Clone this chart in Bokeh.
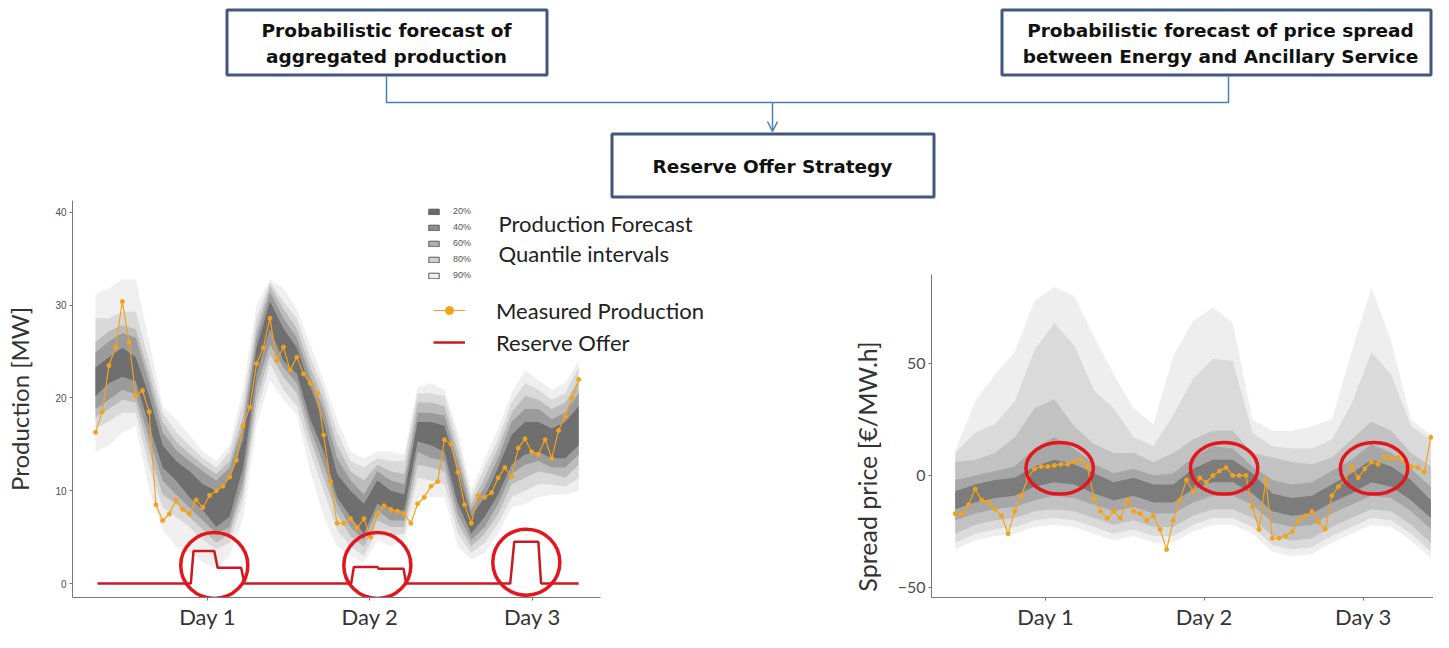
import math
from bokeh.plotting import figure
from bokeh.layouts import column, row
from bokeh.models import (Range1d, FixedTicker, Legend, LegendItem, Label,
                          Arrow, OpenHead)
from bokeh.core.properties import value
from bokeh.embed import file_html
from bokeh.resources import INLINE

# ---------------- DATA ----------------
day_labels = ["Day 1", "Day 2", "Day 3"]
day_ticks_left = [16.7, 40.9, 65.1]
day_ticks_right = [13.7, 37.7, 61.8]
prod_ticks = [0, 10, 20, 30, 40]
spread_ticks = [-50, 0, 50]
quant_labels = ["20%", "40%", "60%", "80%", "90%"]

# production forecast quantile bands (every 2 h)
hours_band_l = list(range(0, 73, 2))
p20_hi = [23.3, 24.4, 25.4, 24.4, 20.2, 14.9, 13.2, 12.1, 10.7, 10.0, 11.4, 15.5, 25.4, 30.4, 27.5, 25.4, 21.2, 17.4, 11.8, 10.0, 8.6, 11.1, 10.0, 9.6, 17.4, 17.4, 17.0, 12.1, 7.2, 9.3, 12.5, 16.0, 17.4, 17.4, 16.7, 17.4, 19.1]
p20_lo = [20.2, 21.6, 22.3, 21.8, 17.0, 12.5, 11.1, 9.3, 7.9, 6.1, 7.2, 12.5, 22.6, 27.5, 24.0, 22.6, 17.7, 14.2, 9.3, 7.2, 5.4, 8.6, 7.9, 7.9, 15.3, 14.9, 14.2, 8.6, 5.4, 7.2, 9.6, 12.8, 13.9, 14.2, 13.5, 13.5, 14.9]
p40_hi = [24.9, 26.1, 27.0, 26.5, 21.6, 16.3, 14.4, 13.2, 12.1, 11.1, 12.5, 17.0, 26.5, 31.4, 28.6, 26.5, 22.3, 18.8, 13.5, 11.1, 9.6, 12.1, 11.1, 10.7, 18.4, 18.4, 18.1, 13.2, 7.9, 10.4, 13.5, 17.4, 18.8, 18.8, 17.7, 18.4, 20.5]
p40_lo = [18.8, 19.8, 20.9, 20.4, 15.6, 11.1, 9.6, 8.2, 6.8, 5.4, 6.1, 11.0, 21.2, 25.8, 23.3, 21.6, 16.7, 12.8, 8.6, 6.1, 4.7, 7.9, 6.8, 6.8, 14.2, 13.5, 13.2, 7.5, 4.7, 6.1, 8.6, 11.8, 12.8, 13.2, 12.5, 12.5, 13.9]
p60_hi = [26.0, 27.2, 27.9, 27.4, 22.6, 17.4, 15.3, 14.0, 12.8, 11.8, 13.2, 18.0, 27.5, 32.1, 29.6, 27.5, 23.3, 19.8, 14.9, 12.1, 11.1, 12.8, 12.1, 11.8, 19.5, 19.5, 19.1, 14.2, 8.6, 11.4, 14.6, 18.4, 20.2, 19.8, 18.8, 19.5, 21.9]
p60_lo = [17.9, 18.8, 19.8, 19.5, 14.2, 9.6, 8.6, 7.2, 5.8, 4.4, 5.4, 10.0, 19.8, 24.7, 22.3, 20.5, 15.6, 11.4, 7.5, 5.1, 4.0, 6.8, 6.1, 6.1, 12.8, 12.5, 12.1, 6.5, 4.0, 5.4, 7.5, 10.7, 11.4, 12.1, 11.8, 11.4, 12.8]
p80_hi = [28.6, 28.6, 29.3, 29.3, 24.0, 18.4, 16.3, 14.9, 13.5, 12.5, 14.2, 19.5, 28.6, 32.5, 30.4, 28.6, 24.4, 20.9, 16.3, 13.2, 12.5, 13.5, 13.2, 13.2, 20.5, 20.5, 20.2, 15.3, 9.3, 12.5, 15.6, 19.5, 21.6, 20.9, 19.8, 20.5, 23.3]
p80_lo = [16.7, 17.5, 18.4, 18.4, 12.5, 8.2, 7.2, 6.1, 4.7, 3.7, 4.4, 9.0, 18.4, 23.7, 20.9, 19.1, 14.2, 10.0, 5.8, 4.0, 3.0, 5.8, 5.1, 5.4, 11.4, 11.1, 10.7, 5.4, 3.3, 4.4, 6.5, 9.3, 10.0, 10.7, 10.7, 10.4, 11.4]
p90_hi = [31.2, 31.8, 32.8, 32.8, 26.1, 19.1, 17.7, 16.0, 14.2, 13.2, 14.9, 21.0, 30.0, 32.8, 31.8, 29.6, 25.8, 21.9, 17.7, 14.2, 13.5, 14.2, 14.2, 13.9, 21.2, 21.6, 20.9, 16.3, 10.0, 13.5, 16.7, 20.5, 23.0, 21.9, 20.9, 21.6, 24.0]
p90_lo = [14.2, 14.9, 16.3, 17.0, 10.0, 5.8, 4.0, 3.3, 2.3, 1.6, 3.0, 7.0, 17.0, 21.9, 19.8, 18.1, 12.1, 7.2, 4.0, 3.0, 2.3, 4.7, 4.0, 4.7, 9.3, 9.3, 9.3, 4.0, 2.6, 3.3, 5.4, 8.2, 8.6, 9.3, 9.6, 9.6, 10.0]

# measured production (hourly)
hours_meas = list(range(0, 73))
meas_prod = [16.3, 18.5, 23.5, 25.5, 30.4, 26.0, 20.2, 20.8, 18.5, 8.5, 6.8, 7.5, 9.0, 8.0, 7.5, 9.0, 8.2, 9.5, 10.0, 10.5,
             11.5, 13.3, 17.0, 19.0, 23.7, 25.4, 28.6, 24.0, 25.5, 23.0, 24.4, 22.6, 21.6, 20.5, 16.0, 11.0, 6.5, 6.5, 7.0, 6.0,
             7.0, 5.0, 7.5, 8.4, 8.0, 7.8, 7.5, 6.5, 8.6, 9.3, 10.5, 11.0, 15.5, 15.0, 12.0, 8.5, 6.5, 9.5, 9.3, 9.8,
             11.4, 12.5, 11.5, 14.6, 15.6, 14.2, 13.9, 15.5, 13.5, 16.5, 18.0, 20.0, 22.0]

# reserve offer (step line)
reserve_h = [0.3, 14.2, 14.6, 17.7, 18.2, 21.7, 22.2, 38.1, 38.5, 42.0, 42.2, 45.9, 46.3, 61.8, 62.4, 66.0, 66.4, 72.0]
reserve_mw = [0, 0, 3.5, 3.5, 1.7, 1.7, 0, 0, 1.8, 1.8, 1.6, 1.6, 0, 0, 4.5, 4.5, 0, 0]

# highlight circles (left)
circ_l_x = [17.7, 42.0, 64.2]
circ_l_y = [1.95, 1.95, 2.3]
circ_l_w = [10.0, 10.0, 10.0]
circ_l_h = [7.1, 7.1, 7.1]

# spread price forecast quantile bands (every 3 h)
hours_band_r = list(range(0, 73, 3))
s20_lo = [-15, -12, -10, -9, -5, -3, -4, -8, -11, -9, -12, -12, -6, -3, -3, -8, -16, -18, -17, -12, -8, -3, -5, -11, -19]
s20_hi = [-7, -4, -2, -1, 4, 7, 5, 1, -3, -1, -4, -4, 3, 7, 7, 1, -8, -10, -9, -4, 1, 7, 4, -2, -11]
s40_lo = [-20, -17, -15, -14, -11, -9, -10, -13, -16, -14, -17, -17, -12, -9, -9, -13, -21, -23, -22, -17, -13, -9, -10, -16, -24]
s40_hi = [-2, 0, 2, 4, 12, 17, 12, 5, 1, 3, 0, 1, 8, 13, 12, 4, -2, -4, -3, 2, 7, 14, 10, 3, -5]
s60_lo = [-26, -22, -20, -19, -16, -15, -16, -19, -22, -20, -23, -23, -18, -15, -15, -19, -27, -29, -28, -23, -19, -15, -16, -22, -30]
s60_hi = [6, 7, 10, 17, 30, 34, 22, 14, 10, 10, 6, 10, 16, 20, 20, 10, 8, 6, 5, 8, 16, 24, 20, 10, 4]
s80_lo = [-30, -26, -24, -23, -20, -19, -20, -23, -26, -24, -27, -27, -22, -19, -19, -23, -31, -33, -32, -27, -23, -19, -20, -26, -34]
s80_hi = [10, 19, 23, 33, 56, 68, 58, 38, 30, 17, 13, 27, 43, 52, 51, 19, 13, 12, 12, 16, 32, 55, 45, 22, 16]
s90_lo = [-33, -29, -27, -26, -23, -22, -23, -26, -29, -27, -30, -30, -25, -22, -22, -26, -34, -36, -35, -30, -26, -22, -23, -29, -37]
s90_hi = [11, 33, 45, 55, 78, 84, 80, 62, 45, 30, 23, 53, 69, 75, 68, 25, 20, 20, 22, 25, 55, 84, 60, 25, 18]

# measured spread (hourly)
meas_spread = [-17, -17, -13, -6, -11, -12, -15, -18, -26, -16, -9, -1, 3, 4, 4, 4.5, 5, 5, 6, 7,
               4, -10, -16, -19, -16, -19, -11, -16, -17, -20, -18, -24, -33, -20, -11, -2, -7, -1, -3, 0,
               2, 3.5, 0, 0, 0, -14, -24, -2, -28, -28, -27, -25, -20, -18, -16, -21, -24, -9, -5, -2,
               4, -1, 3, 6, 5, 8.5, 7.5, 8, 6, 4, 3.5, 1.5, 17]

# highlight ellipses (right)
ell_r_x = [15.8, 40.7, 63.4]
ell_r_y = [3.2, 3.2, 3.2]
ell_r_w = [10.2, 10.2, 10.2]
ell_r_h = [23.0, 23.0, 23.0]

# ---------------- STYLE ----------------
ORANGE = "#f2a31b"
RED = "#e3161e"
RED_LINE = "#c81a22"
BOX = "#41587a"
CONN = "#4a7ebb"
bands_l_colors = ["#efefef", "#d9d9d9", "#bcbcbc", "#9b9b9b", "#6f6f6f"]   # 90,80,60,40,20
bands_r_colors = ["#eeeeee", "#dadada", "#c2c2c2", "#a7a7a7", "#7c7c7c"]
swatch_colors = ["#6b6b6b", "#8e8e8e", "#aeaeae", "#d0d0d0", "#efefef"]  # 20..90

# ---------------- TOP DIAGRAM ----------------
top = figure(width=1433, height=200, x_range=Range1d(0, 1433), y_range=Range1d(200, 0),
             output_backend="svg", toolbar_location=None, min_border=0,
             x_axis_location=None, y_axis_location=None)
top.grid.visible = False
top.outline_line_color = None

box_left = [226.5, 1001.5, 611.5]
box_right = [546.5, 1430.5, 933.5]
box_top = [9.5, 9.5, 133.5]
box_bottom = [74.5, 74.5, 196.5]
top.line(x=[386, 386, 1228, 1228], y=[76, 102, 102, 76], line_color=CONN, line_width=1.5)
top.add_layout(Arrow(end=OpenHead(size=10, line_color=CONN, line_width=1.5),
                     x_start=772, y_start=102, x_end=772, y_end=131,
                     line_color=CONN, line_width=1.5))
top.quad(left=box_left, right=box_right, top=box_top, bottom=box_bottom,
         fill_color="white", line_color=BOX, line_width=3)
top.text(x=[386, 386, 1220, 1220, 772], y=[30, 56, 30, 56, 166],
         text=["Probabilistic forecast of", "aggregated production",
               "Probabilistic forecast of price spread",
               "between Energy and Ancillary Service", "Reserve Offer Strategy"],
         text_font=value("DejaVu Sans"), text_font_style="bold", text_font_size="18.5px",
         text_align="center", text_baseline="middle", text_color="#111111")


def style_axes(p, ylabel, ylabel_size, ytick_font, ytick_size):
    p.grid.visible = False
    p.outline_line_color = None
    for ax in (p.xaxis, p.yaxis):
        ax.axis_line_color = "#777777"
        ax.major_tick_line_color = "#777777"
        ax.minor_tick_line_color = None
        ax.major_tick_in = 0
        ax.major_tick_out = 3
    p.xaxis.major_label_text_font = "Lato"
    p.xaxis.major_label_text_font_size = "22px"
    p.xaxis.major_label_text_color = "#333333"
    p.xaxis.major_label_standoff = 2
    p.yaxis.major_label_text_font = ytick_font
    p.yaxis.major_label_text_font_size = ytick_size
    p.yaxis.major_label_text_color = "#4d4d4d"
    p.yaxis.major_label_standoff = 3
    if ylabel:
        p.yaxis.axis_label = ylabel
        p.yaxis.axis_label_text_font = "Lato"
        p.yaxis.axis_label_text_font_style = "normal"
        p.yaxis.axis_label_text_font_size = ylabel_size
        p.yaxis.axis_label_text_color = "#333333"


# ---------------- LEFT CHART ----------------
pl = figure(width=894, height=432, x_range=Range1d(-3.43, 119.07), y_range=Range1d(-1.5, 41.28),
            output_backend="svg", toolbar_location=None,
            min_border_left=72, min_border_right=0, min_border_top=0, min_border_bottom=32)
style_axes(pl, "Production [MW]", "24px", "Liberation Sans", "10px")
pl.xaxis.bounds = (-3.43, 75.26)
pl.yaxis.axis_label_standoff = 18
pl.yaxis.ticker = FixedTicker(ticks=prod_ticks)
pl.xaxis.ticker = FixedTicker(ticks=day_ticks_left)
pl.xaxis.major_label_overrides = {t: l for t, l in zip(day_ticks_left, day_labels)}

for (lo, hi), col in zip([(p90_lo, p90_hi), (p80_lo, p80_hi), (p60_lo, p60_hi),
                          (p40_lo, p40_hi), (p20_lo, p20_hi)], bands_l_colors):
    pl.varea(x=hours_band_l, y1=lo, y2=hi, fill_color=col)

meas_line = pl.line(hours_meas, meas_prod, line_color=ORANGE, line_width=1.2)
meas_dots = pl.scatter(hours_meas, meas_prod, size=4, color=ORANGE)
res_line = pl.line(reserve_h, reserve_mw, line_color=RED_LINE, line_width=2.5)
pl.ellipse(x=circ_l_x, y=circ_l_y, width=circ_l_w, height=circ_l_h,
           fill_color=None, line_color=RED, line_width=3.5)

# legend-only swatch renderers (no visible data)
nan = [math.nan]
swatches = []
for col in swatch_colors:
    swatches.append(pl.quad(left=nan, right=nan, top=nan, bottom=nan, fill_color=col,
                            line_color="#5a5a5a", line_width=1))
leg1 = Legend(items=[LegendItem(label=l, renderers=[r]) for l, r in zip(quant_labels, swatches)],
              location=(355, 314), glyph_width=13, glyph_height=7, label_standoff=13,
              label_height=16, spacing=0, padding=0, margin=0,
              border_line_color=None, background_fill_alpha=0,
              label_text_font="Liberation Sans", label_text_font_size="9px",
              label_text_color="#555555")
pl.add_layout(leg1)
leg2 = Legend(items=[LegendItem(label="Measured Production", renderers=[meas_line, meas_dots]),
                     LegendItem(label="Reserve Offer", renderers=[res_line])],
              location=(361, 239), glyph_width=32, glyph_height=20, label_standoff=31,
              label_height=32, spacing=0, padding=0, margin=0,
              border_line_color=None, background_fill_alpha=0,
              label_text_font="Lato", label_text_font_size="22px", label_text_color="#222222")
pl.add_layout(leg2)
pl.add_layout(Label(x=60.06, y=38.82, text="Production Forecast", text_font="Lato",
                    text_font_size="22px", text_baseline="middle", text_color="#222222"))
pl.add_layout(Label(x=60.06, y=35.61, text="Quantile intervals", text_font="Lato",
                    text_font_size="22px", text_baseline="middle", text_color="#222222"))
# y-axis title of the right chart (placed in the free space to its left)
pl.add_layout(Label(x=114.9, y=12.62, angle=math.pi / 2, text="Spread price [€/MW.h]",
                    text_font="Lato", text_font_size="25px", text_align="center",
                    text_baseline="middle", text_color="#333333"))

# ---------------- RIGHT CHART ----------------
pr = figure(width=539, height=432, x_range=Range1d(-3.6, 72.4), y_range=Range1d(-54.4, 122.6),
            output_backend="svg", toolbar_location=None,
            min_border_left=37, min_border_right=0, min_border_top=0, min_border_bottom=32)
style_axes(pr, None, None, "Lato", "16px")
pr.yaxis.bounds = (-54.4, 89.4)
pr.yaxis.ticker = FixedTicker(ticks=spread_ticks)
pr.xaxis.ticker = FixedTicker(ticks=day_ticks_right)
pr.xaxis.major_label_overrides = {t: l for t, l in zip(day_ticks_right, day_labels)}

for (lo, hi), col in zip([(s90_lo, s90_hi), (s80_lo, s80_hi), (s60_lo, s60_hi),
                          (s40_lo, s40_hi), (s20_lo, s20_hi)], bands_r_colors):
    pr.varea(x=hours_band_r, y1=lo, y2=hi, fill_color=col)

pr.line(hours_meas, meas_spread, line_color=ORANGE, line_width=1.2)
pr.scatter(hours_meas, meas_spread, size=4, color=ORANGE)
pr.ellipse(x=ell_r_x, y=ell_r_y, width=ell_r_w, height=ell_r_h,
           fill_color=None, line_color=RED, line_width=3.5)

layout = column(top, row(pl, pr))
open("out.html", "w").write(file_html(layout, INLINE, title="Reserve offer strategy"))
